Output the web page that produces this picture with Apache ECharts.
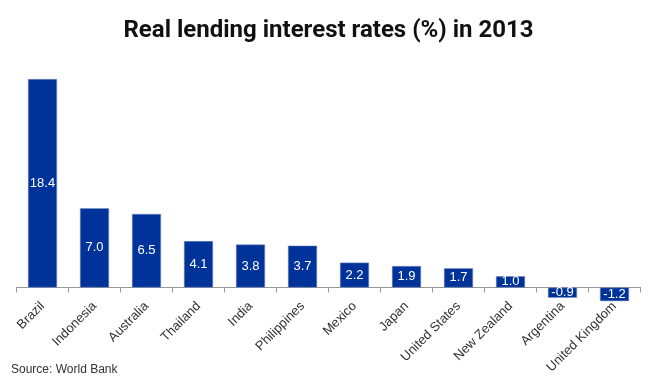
<!DOCTYPE html>
<html><head><meta charset="utf-8">
<script src="https://cdn.jsdelivr.net/npm/echarts@6/dist/echarts.min.js"></script>
<style>html,body{margin:0;padding:0;background:#fff}#c{width:657px;height:387px}</style>
</head><body><div id="c"></div>
<script>
const categories = ["Brazil","Indonesia","Australia","Thailand","India","Philippines","Mexico","Japan","United States","New Zealand","Argentina","United Kingdom"];
const rates = [18.4,7.0,6.5,4.1,3.8,3.7,2.2,1.9,1.7,1.0,-0.9,-1.2];
const titleText = "Real lending interest rates (%) in 2013";
const sourceText = "Source: World Bank";

const chart = echarts.init(document.getElementById('c'), null, {renderer:'canvas'});
chart.setOption({
  animation:false,
  title:{text:titleText,left:'center',top:14,textStyle:{fontFamily:'Roboto',fontWeight:'bold',fontSize:24,color:'#111'}},
  graphic:[{type:'text',left:11,top:364,style:{text:sourceText,font:'12px "Liberation Sans", Arial',fill:'#333'}}],
  grid:{left:16.5,right:16.5,top:61,bottom:76.8,containLabel:false,outerBoundsMode:'none'},
  xAxis:{type:'category',data:categories,
    axisLine:{lineStyle:{color:'#999',width:1}},
    axisTick:{show:true,length:5,lineStyle:{color:'#999'}},
    axisLabel:{interval:0,rotate:45,fontSize:13,color:'#333',fontFamily:'"Liberation Sans", Arial',margin:-6}},
  yAxis:{type:'value',min:-2,max:20,show:false,splitLine:{show:false}},
  series:[{type:'bar',data:rates,barWidth:29,
    itemStyle:{color:'#003399',borderColor:'#7f8fbf',borderWidth:0.5},
    label:{show:true,position:'inside',color:'#fff',fontSize:13,fontFamily:'"Liberation Sans", Arial',formatter:p=>p.value.toFixed(1)}}]
});
</script></body></html>
